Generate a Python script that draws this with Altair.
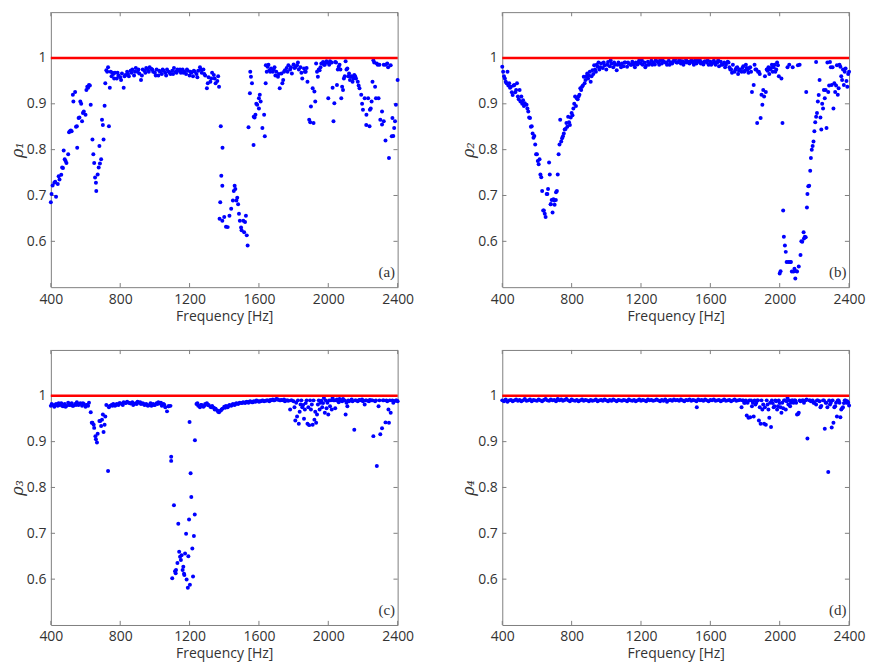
import altair as alt
import pandas as pd

# measurement grid (Hz) and axis ticks
FREQ = list(range(400, 2401, 10))
X_TICKS = [400, 800, 1200, 1600, 2000, 2400]
Y_TICKS = [0.6, 0.7, 0.8, 0.9, 1.0]
REF_LEVEL = [1.0]

# ---- panel (a): rho_1 -------------------------------------------------
RHO1 = [
    0.685, 0.722, 0.728, 0.697, 0.725, 0.735, 0.745, 0.760, 0.779, 0.771,
    0.790, 0.840, 0.840, 0.905, 0.926, 0.851, 0.869, 0.905, 0.862, 0.883,
    0.876, 0.937, 0.941, 0.898, 0.822, 0.771, 0.728, 0.746, 0.808, 0.779,
    0.854, 0.896, 0.973, 0.980, 0.935, 0.960, 0.965, 0.968, 0.955, 0.962,
    0.958, 0.966, 0.935, 0.963, 0.970, 0.960, 0.972, 0.975, 0.962, 0.978,
    0.970, 0.966, 0.952, 0.975, 0.972, 0.978, 0.974, 0.980, 0.976, 0.970,
    0.968, 0.975, 0.962, 0.970, 0.965, 0.972, 0.968, 0.975, 0.970, 0.965,
    0.972, 0.978, 0.970, 0.975, 0.972, 0.968, 0.975, 0.970, 0.965, 0.972,
    0.962, 0.968, 0.960, 0.970, 0.965, 0.972, 0.980, 0.968, 0.975, 0.962,
    0.934, 0.958, 0.948, 0.968, 0.963, 0.945, 0.950, 0.937, 0.851, 0.804,
    0.653, 0.632, 0.631, 0.656, 0.671, 0.689, 0.721, 0.689, 0.681, 0.645,
    0.624, 0.645, 0.642, 0.613, 0.849, 0.970, 0.945, 0.872, 0.876, 0.898,
    0.912, 0.905, 0.847, 0.876, 0.984, 0.981, 0.973, 0.977, 0.970, 0.980,
    0.970, 0.959, 0.934, 0.966, 0.952, 0.973, 0.978, 0.984, 0.975, 0.966,
    0.986, 0.980, 0.984, 0.975, 0.980, 0.955, 0.977, 0.970, 0.948, 0.865,
    0.894, 0.934, 0.927, 0.988, 0.959, 0.973, 0.988, 0.991, 0.985, 0.993,
    0.912, 0.993, 0.990, 0.862, 0.991, 0.941, 0.981, 0.975, 0.937, 0.955,
    0.993, 0.977, 0.966, 0.959, 0.948, 0.963, 0.955, 0.948, 0.934, 0.920,
    0.887, 0.912, 0.876, 0.912, 0.887, 0.905, 0.995, 0.937, 0.988, 0.912,
    0.865, 0.883, 0.862, 0.820, 0.988, 0.782, 0.984, 0.869, 0.847, 0.898,
    0.952,
]
RHO1_EXTRA = [
    (404, 0.703), (425, 0.730), (445, 0.742), (465, 0.761), (474, 0.798), (485, 0.775),
    (505, 0.838), (515, 0.842), (527, 0.920), (545, 0.850), (552, 0.804), (565, 0.870),
    (575, 0.900), (585, 0.880), (605, 0.930), (615, 0.935), (625, 0.940), (645, 0.790),
    (655, 0.739), (662, 0.710), (676, 0.761), (683, 0.770), (695, 0.865), (704, 0.822),
    (714, 0.945), (725, 0.970), (735, 0.851), (745, 0.970),
    (755, 0.968), (765, 0.955), (785, 0.968), (805, 0.952), (825, 0.960), (845, 0.965),
    (865, 0.968), (885, 0.970), (905, 0.975), (925, 0.962), (945, 0.968), (965, 0.970),
    (985, 0.975), (1005, 0.962), (1025, 0.972), (1045, 0.975), (1065, 0.962), (1085, 0.968),
    (1105, 0.965), (1125, 0.968), (1145, 0.975), (1165, 0.968), (1185, 0.975), (1205, 0.970),
    (1225, 0.972), (1245, 0.958), (1265, 0.975), (1285, 0.965), (1305, 0.945), (1325, 0.955),
    (1345, 0.955), (1365, 0.960),
    (1377, 0.685), (1383, 0.743), (1389, 0.721), (1373, 0.649), (1389, 0.645), (1455, 0.710),
    (1464, 0.714), (1475, 0.695), (1485, 0.660), (1497, 0.630), (1525, 0.656), (1535, 0.591),
    (1515, 0.620),
    (1548, 0.923), (1554, 0.959), (1569, 0.810), (1575, 0.870), (1585, 0.900), (1600, 0.890),
    (1605, 0.920), (1634, 0.829), (1639, 0.945), (1645, 0.970), (1655, 0.985), (1665, 0.970),
    (1685, 0.975), (1695, 0.962), (1715, 0.965), (1735, 0.945), (1745, 0.970), (1765, 0.970),
    (1785, 0.980), (1805, 0.978), (1825, 0.990), (1845, 0.968), (1865, 0.970), (1875, 0.978),
    (1896, 0.860), (1915, 0.858), (1925, 0.905), (1935, 0.970), (1945, 0.975), (1955, 0.980),
    (1975, 0.985), (1985, 0.990), (1995, 0.990), (2005, 0.985), (2015, 0.990), (2025, 0.935),
    (2035, 0.901), (2045, 0.990), (2055, 0.975), (2065, 0.985), (2075, 0.912), (2085, 0.930),
    (2095, 0.960), (2105, 0.975), (2115, 0.960), (2125, 0.952), (2135, 0.960), (2145, 0.955),
    (2155, 0.960), (2175, 0.940), (2195, 0.900), (2219, 0.854), (2238, 0.851), (2245, 0.890),
    (2255, 0.948), (2265, 0.990), (2275, 0.912), (2285, 0.985), (2295, 0.985), (2310, 0.855),
    (2320, 0.985), (2330, 0.985), (2345, 0.980), (2366, 0.829), (2375, 0.830), (2385, 0.862),
]

# ---- panel (b): rho_2 -------------------------------------------------
RHO2 = [
    0.981, 0.960, 0.948, 0.970, 0.945, 0.937, 0.919, 0.941, 0.930, 0.916,
    0.930, 0.916, 0.908, 0.901, 0.898, 0.883, 0.869, 0.851, 0.826, 0.811,
    0.790, 0.768, 0.746, 0.710, 0.667, 0.653, 0.703, 0.772, 0.681, 0.663,
    0.689, 0.707, 0.746, 0.811, 0.818, 0.829, 0.844, 0.858, 0.872, 0.854,
    0.880, 0.890, 0.916, 0.912, 0.916, 0.934, 0.937, 0.959, 0.952, 0.966,
    0.962, 0.948, 0.973, 0.984, 0.970, 0.981, 0.975, 0.988, 0.978, 0.984,
    0.975, 0.991, 0.982, 0.988, 0.980, 0.985, 0.973, 0.990, 0.985, 0.988,
    0.982, 0.990, 0.981, 0.988, 0.985, 0.992, 0.985, 0.990, 0.986, 0.995,
    0.988, 0.985, 0.990, 0.984, 0.992, 0.988, 0.994, 0.990, 0.986, 0.993,
    0.990, 0.995, 0.988, 0.992, 0.990, 0.985, 0.994, 0.990, 0.988, 0.995,
    0.998, 0.990, 0.994, 0.988, 0.993, 0.990, 0.996, 0.992, 0.988, 0.995,
    0.990, 0.994, 0.988, 0.992, 0.995, 0.990, 0.986, 0.993, 0.990, 0.985,
    0.992, 0.988, 0.994, 0.985, 0.990, 0.982, 0.992, 0.986, 0.990, 0.985,
    0.992, 0.980, 0.975, 0.985, 0.970, 0.978, 0.965, 0.975, 0.970, 0.982,
    0.972, 0.978, 0.968, 0.980, 0.926, 0.941, 0.975, 0.858, 0.970, 0.869,
    0.898, 0.916, 0.926, 0.972, 0.965, 0.978, 0.970, 0.985, 0.975, 0.984,
    0.530, 0.955, 0.667, 0.591, 0.555, 0.555, 0.555, 0.534, 0.534, 0.519,
    0.534, 0.545, 0.570, 0.599, 0.606, 0.609, 0.703, 0.721, 0.782, 0.808,
    0.840, 0.872, 0.905, 0.952, 0.844, 0.890, 0.912, 0.847, 0.926, 0.991,
    0.941, 0.890, 0.926, 0.984, 0.934, 0.981, 0.952, 0.941, 0.977, 0.937,
    0.970,
]
RHO2_EXTRA = [
    (405, 0.970), (415, 0.955), (425, 0.945), (435, 0.940), (445, 0.935), (455, 0.925),
    (465, 0.940), (475, 0.925), (485, 0.945), (495, 0.910), (505, 0.905), (515, 0.900),
    (525, 0.895), (545, 0.890), (555, 0.870), (565, 0.850), (575, 0.835), (585, 0.830),
    (595, 0.790), (605, 0.775), (615, 0.779), (625, 0.740), (636, 0.667), (645, 0.660),
    (656, 0.703), (664, 0.714), (674, 0.746), (679, 0.681), (685, 0.690), (695, 0.692),
    (702, 0.680), (709, 0.690), (715, 0.710), (725, 0.790), (734, 0.865), (745, 0.825),
    (755, 0.835), (765, 0.845), (775, 0.850), (785, 0.860), (795, 0.870), (805, 0.875),
    (815, 0.900), (825, 0.895), (835, 0.910), (845, 0.920), (855, 0.930), (865, 0.940),
    (875, 0.945), (885, 0.960), (895, 0.955), (905, 0.970), (915, 0.960), (925, 0.965),
    (935, 0.975), (945, 0.985), (955, 0.990), (965, 0.980), (985, 0.990), (1005, 0.985),
    (1025, 0.995), (1045, 0.990), (1065, 0.985), (1085, 0.980), (1105, 0.990), (1125, 0.990),
    (1145, 0.985), (1165, 0.980), (1185, 0.990), (1205, 0.995), (1225, 0.980), (1245, 0.985),
    (1265, 0.985), (1285, 0.995), (1305, 0.985), (1325, 0.995), (1345, 0.990), (1365, 0.985),
    (1385, 0.992), (1405, 0.990), (1425, 0.995), (1445, 0.985), (1465, 0.990), (1485, 0.992),
    (1505, 0.985), (1525, 0.995), (1545, 0.988), (1565, 0.992), (1585, 0.995), (1605, 0.985),
    (1625, 0.990), (1645, 0.995), (1665, 0.985), (1685, 0.980), (1705, 0.990), (1715, 0.975),
    (1725, 0.968), (1745, 0.975), (1755, 0.980), (1765, 0.972), (1785, 0.978), (1795, 0.970),
    (1805, 0.985), (1815, 0.975), (1825, 0.978), (1835, 0.970), (1855, 0.985), (1865, 0.975),
    (1875, 0.970), (1885, 0.965), (1895, 0.920), (1905, 0.930), (1915, 0.960), (1925, 0.975),
    (1935, 0.980), (1945, 0.975), (1955, 0.985), (1965, 0.980), (1975, 0.970), (1985, 0.990),
    (1995, 0.960), (2005, 0.535), (2016, 0.858), (2024, 0.610), (2035, 0.577), (2045, 0.980),
    (2055, 0.985), (2065, 0.555), (2075, 0.980), (2085, 0.540), (2095, 0.535), (2105, 0.984),
    (2115, 0.985), (2125, 0.600), (2138, 0.620), (2145, 0.610), (2153, 0.926), (2157, 0.674),
    (2165, 0.720), (2176, 0.754), (2185, 0.800), (2195, 0.818), (2205, 0.860), (2210, 0.991),
    (2215, 0.880), (2225, 0.919), (2235, 0.870), (2245, 0.900), (2255, 0.930), (2265, 0.930),
    (2275, 0.990), (2285, 0.940), (2295, 0.980), (2305, 0.980), (2315, 0.945), (2325, 0.940),
    (2335, 0.920), (2345, 0.985), (2355, 0.960), (2365, 0.975), (2375, 0.970), (2385, 0.950),
    (2395, 0.965),
]

# ---- panel (c): rho_3 -------------------------------------------------
RHO3 = [
    0.978, 0.980, 0.976, 0.982, 0.978, 0.980, 0.984, 0.977, 0.982, 0.978,
    0.985, 0.980, 0.984, 0.978, 0.982, 0.986, 0.980, 0.984, 0.978, 0.982,
    0.976, 0.980, 0.985, 0.964, 0.941, 0.930, 0.905, 0.917, 0.945, 0.934,
    0.959, 0.937, 0.980, 0.836, 0.978, 0.980, 0.982, 0.978, 0.982, 0.980,
    0.984, 0.982, 0.986, 0.984, 0.987, 0.985, 0.983, 0.986, 0.982, 0.984,
    0.987, 0.985, 0.982, 0.984, 0.980, 0.982, 0.978, 0.980, 0.978, 0.982,
    0.980, 0.984, 0.986, 0.983, 0.978, 0.982, 0.975, 0.966, 0.977, 0.978,
    0.602, 0.761, 0.613, 0.635, 0.660, 0.642, 0.620, 0.609, 0.699, 0.581,
    0.943, 0.779, 0.606, 0.741, 0.982, 0.978, 0.975, 0.980, 0.976, 0.982,
    0.984, 0.980, 0.976, 0.978, 0.974, 0.972, 0.968, 0.964, 0.968, 0.972,
    0.976, 0.978, 0.975, 0.980, 0.978, 0.982, 0.980, 0.984, 0.982, 0.985,
    0.984, 0.986, 0.984, 0.987, 0.985, 0.988, 0.986, 0.988, 0.987, 0.989,
    0.987, 0.988, 0.990, 0.988, 0.989, 0.990, 0.988, 0.990, 0.992, 0.990,
    0.993, 0.992, 0.990, 0.991, 0.990, 0.988, 0.990, 0.989, 0.970, 0.990,
    0.988, 0.946, 0.955, 0.939, 0.981, 0.975, 0.950, 0.984, 0.939, 0.936,
    0.970, 0.937, 0.948, 0.941, 0.981, 0.970, 0.989, 0.984, 0.963, 0.973,
    0.959, 0.977, 0.970, 0.990, 0.973, 0.992, 0.986, 0.990, 0.988, 0.990,
    0.959, 0.977, 0.988, 0.990, 0.988, 0.926, 0.990, 0.988, 0.991, 0.990,
    0.988, 0.981, 0.990, 0.989, 0.991, 0.990, 0.912, 0.988, 0.847, 0.977,
    0.916, 0.929, 0.990, 0.942, 0.988, 0.941, 0.963, 0.990, 0.988, 0.990,
    0.988,
]
RHO3_EXTRA = [
    (405, 0.982), (425, 0.980), (445, 0.984), (465, 0.978), (485, 0.976), (505, 0.980),
    (525, 0.978), (545, 0.980), (565, 0.982), (585, 0.984), (605, 0.980), (615, 0.978),
    (636, 0.941), (647, 0.937), (657, 0.912), (666, 0.898), (685, 0.945), (695, 0.948),
    (704, 0.921), (714, 0.955), (735, 0.975), (755, 0.978), (775, 0.980), (795, 0.984),
    (815, 0.980), (835, 0.985), (855, 0.984), (875, 0.980), (895, 0.982), (915, 0.986),
    (935, 0.982), (955, 0.980), (975, 0.984), (995, 0.980), (1015, 0.982), (1035, 0.985),
    (1055, 0.980), (1079, 0.977), (1094, 0.867), (1094, 0.858), (1116, 0.617), (1122, 0.620),
    (1135, 0.721), (1145, 0.649), (1154, 0.652), (1164, 0.627), (1168, 0.612), (1174, 0.656),
    (1183, 0.599), (1193, 0.650), (1197, 0.730), (1202, 0.588), (1206, 0.831), (1216, 0.667),
    (1225, 0.694), (1231, 0.903), (1245, 0.984), (1265, 0.980), (1285, 0.978), (1305, 0.980),
    (1325, 0.975), (1345, 0.970), (1365, 0.965), (1385, 0.970), (1405, 0.974), (1425, 0.978),
    (1445, 0.980), (1465, 0.982), (1485, 0.984), (1505, 0.985), (1525, 0.986), (1545, 0.987),
    (1565, 0.986), (1585, 0.990), (1605, 0.988), (1625, 0.989), (1645, 0.990), (1665, 0.991),
    (1685, 0.990), (1705, 0.992), (1725, 0.990), (1745, 0.992), (1765, 0.990), (1785, 0.990),
    (1805, 0.975), (1815, 0.985), (1825, 0.990), (1835, 0.965), (1845, 0.990), (1855, 0.980),
    (1865, 0.970), (1875, 0.990), (1885, 0.975), (1895, 0.990), (1905, 0.981), (1915, 0.990),
    (1925, 0.965), (1935, 0.959), (1945, 0.990), (1955, 0.985), (1965, 0.975), (1975, 0.995),
    (1985, 0.990), (1995, 0.985), (2005, 0.990), (2015, 0.990), (2025, 0.995), (2035, 0.990),
    (2045, 0.990), (2055, 0.990), (2065, 0.993), (2075, 0.990), (2085, 0.993), (2095, 0.990),
    (2105, 0.985), (2115, 0.990), (2135, 0.992), (2155, 0.990), (2175, 0.990), (2195, 0.992),
    (2215, 0.990), (2235, 0.988), (2255, 0.990), (2275, 0.990), (2295, 0.990), (2315, 0.990),
    (2335, 0.990), (2347, 0.970), (2355, 0.990), (2375, 0.985), (2395, 0.990),
]

# ---- panel (d): rho_4 -------------------------------------------------
RHO4 = [
    0.990, 0.988, 0.992, 0.987, 0.990, 0.991, 0.988, 0.990, 0.992, 0.989,
    0.991, 0.988, 0.990, 0.993, 0.989, 0.990, 0.992, 0.988, 0.991, 0.990,
    0.989, 0.992, 0.990, 0.988, 0.991, 0.993, 0.990, 0.989, 0.992, 0.990,
    0.991, 0.988, 0.993, 0.990, 0.992, 0.989, 0.991, 0.993, 0.990, 0.988,
    0.992, 0.990, 0.989, 0.991, 0.988, 0.990, 0.992, 0.989, 0.991, 0.990,
    0.988, 0.991, 0.989, 0.990, 0.992, 0.988, 0.990, 0.991, 0.989, 0.992,
    0.990, 0.988, 0.991, 0.989, 0.992, 0.990, 0.988, 0.991, 0.990, 0.989,
    0.991, 0.990, 0.988, 0.992, 0.990, 0.989, 0.991, 0.988, 0.990, 0.992,
    0.989, 0.991, 0.990, 0.988, 0.992, 0.990, 0.991, 0.989, 0.990, 0.992,
    0.990, 0.988, 0.991, 0.989, 0.992, 0.987, 0.990, 0.991, 0.989, 0.992,
    0.990, 0.991, 0.989, 0.992, 0.990, 0.988, 0.991, 0.990, 0.992, 0.989,
    0.991, 0.990, 0.988, 0.992, 0.990, 0.991, 0.989, 0.992, 0.990, 0.988,
    0.991, 0.990, 0.992, 0.989, 0.990, 0.991, 0.988, 0.990, 0.992, 0.989,
    0.990, 0.991, 0.988, 0.990, 0.992, 0.989, 0.990, 0.991, 0.975, 0.990,
    0.985, 0.957, 0.952, 0.953, 0.977, 0.955, 0.981, 0.990, 0.946, 0.939,
    0.970, 0.939, 0.937, 0.981, 0.952, 0.932, 0.984, 0.977, 0.988, 0.977,
    0.984, 0.963, 0.973, 0.990, 0.988, 0.981, 0.977, 0.990, 0.985, 0.990,
    0.959, 0.963, 0.988, 0.990, 0.985, 0.990, 0.907, 0.990, 0.988, 0.990,
    0.985, 0.981, 0.990, 0.988, 0.978, 0.990, 0.928, 0.985, 0.834, 0.981,
    0.931, 0.941, 0.977, 0.955, 0.990, 0.953, 0.973, 0.984, 0.990, 0.988,
    0.979,
]
RHO4_EXTRA = [
    (1522, 0.975), (1785, 0.990), (1795, 0.985), (1805, 0.990), (1815, 0.985), (1825, 0.990),
    (1835, 0.990), (1845, 0.985), (1855, 0.990), (1865, 0.985), (1875, 0.990), (1885, 0.975),
    (1895, 0.990), (1905, 0.981), (1915, 0.975), (1925, 0.990), (1935, 0.970), (1945, 0.985),
    (1955, 0.990), (1965, 0.975), (1975, 0.990), (1985, 0.970), (1995, 0.990), (2005, 0.975),
    (2015, 0.985), (2025, 0.990), (2035, 0.970), (2045, 0.995), (2055, 0.990), (2065, 0.985),
    (2075, 0.990), (2085, 0.990), (2095, 0.985), (2105, 0.960), (2115, 0.990), (2135, 0.990),
    (2155, 0.992), (2175, 0.990), (2195, 0.985), (2215, 0.990), (2235, 0.975), (2255, 0.990),
    (2265, 0.985), (2275, 0.975), (2285, 0.990), (2295, 0.985), (2305, 0.990), (2315, 0.975),
    (2325, 0.985), (2335, 0.990), (2345, 0.985), (2355, 0.970), (2365, 0.975), (2375, 0.990),
    (2385, 0.985), (2395, 0.985),
]

PANEL_TAGS = ["(a)", "(b)", "(c)", "(d)"]
Y_TITLES = ["\u03c1\u2081", "\u03c1\u2082", "\u03c1\u2083", "\u03c1\u2084"]

# ---- styling -----------------------------------------------------------
W, H = 348, 276
FONT = "Open Sans"
TXT = "#333333"
FRAME = "#808080"
TICK_DX = 24      # inward tick length, in Hz
TICK_DY = 0.009   # inward tick length, in rho units
X_DOM = [400, 2400]
Y_DOM = [0.5, 1.1]


def panel(vals, extra, tag, ytitle):
    assert len(vals) == len(FREQ), (tag, len(vals))
    pts_df = pd.DataFrame({
        "f": FREQ + [p[0] for p in extra],
        "rho": vals + [p[1] for p in extra],
    })
    xs = alt.Scale(domain=X_DOM, nice=False, zero=False)
    ys = alt.Scale(domain=Y_DOM, nice=False, zero=False)
    xax = alt.Axis(values=X_TICKS, format="d", title="Frequency [Hz]", tickSize=0,
                   domain=False, grid=False, labelFont=FONT, labelFontSize=14,
                   labelColor=TXT, labelPadding=5, labelFlush=False,
                   titleFont=FONT, titleFontSize=14, titleColor=TXT,
                   titleFontWeight="normal", titlePadding=3)
    yax = alt.Axis(values=Y_TICKS, format="~g", title=ytitle, tickSize=0,
                   domain=False, grid=False, labelFont=FONT, labelFontSize=14,
                   labelColor=TXT, labelPadding=5, labelFlush=False,
                   titleFont="DejaVu Serif", titleFontStyle="italic",
                   titleFontSize=16, titleColor=TXT, titleFontWeight="normal",
                   titlePadding=1)
    X = alt.X("f:Q", scale=xs, axis=xax)
    Y = alt.Y("rho:Q", scale=ys, axis=yax)

    pts = alt.Chart(pts_df).mark_circle(size=16, color="#0000ff", opacity=1).encode(x=X, y=Y)

    ref = alt.Chart(pd.DataFrame({"rho": REF_LEVEL})).mark_rule(
        color="#ff0000", strokeWidth=2.5).encode(y=Y)

    n = len(X_TICKS)
    m = len(Y_TICKS)
    tick_df = pd.DataFrame({
        "f": X_TICKS * 2 + [X_DOM[0]] * m + [X_DOM[1]] * m,
        "f2": X_TICKS * 2 + [X_DOM[0] + TICK_DX] * m + [X_DOM[1] - TICK_DX] * m,
        "rho": [Y_DOM[0]] * n + [Y_DOM[1]] * n + Y_TICKS * 2,
        "rho2": [Y_DOM[0] + TICK_DY] * n + [Y_DOM[1] - TICK_DY] * n + Y_TICKS * 2,
    })
    ticks = alt.Chart(tick_df).mark_rule(color=FRAME, strokeWidth=1).encode(
        x=X, x2="f2", y=Y, y2="rho2")

    lab = alt.Chart(pd.DataFrame({"f": [2385], "rho": [0.515], "t": [tag]})).mark_text(
        align="right", baseline="bottom", font="Liberation Serif", fontSize=15,
        color=TXT).encode(x=X, y=Y, text="t:N")

    return alt.layer(ticks, pts, ref, lab).properties(width=W, height=H)


pa = panel(RHO1, RHO1_EXTRA, PANEL_TAGS[0], Y_TITLES[0])
pb = panel(RHO2, RHO2_EXTRA, PANEL_TAGS[1], Y_TITLES[1])
pc = panel(RHO3, RHO3_EXTRA, PANEL_TAGS[2], Y_TITLES[2])
pd_ = panel(RHO4, RHO4_EXTRA, PANEL_TAGS[3], Y_TITLES[3])

chart = alt.vconcat(
    alt.hconcat(pa, pb, spacing=45),
    alt.hconcat(pc, pd_, spacing=45),
    spacing=25,
).properties(
    padding={"left": 0, "top": 2, "right": 0, "bottom": 0},
    background="white",
).configure_view(stroke=FRAME, strokeWidth=1)

chart.save("out.html", embed_options={"renderer": "svg", "actions": False})
